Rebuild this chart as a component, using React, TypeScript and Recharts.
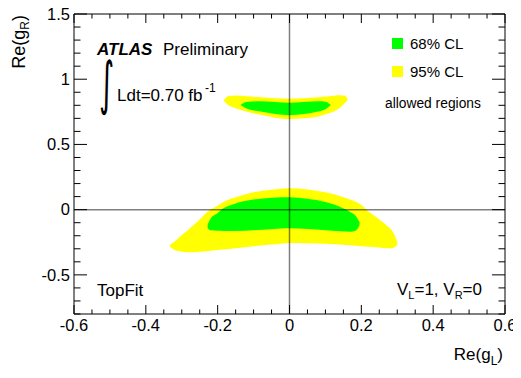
import { ComposedChart, Area, XAxis, YAxis, ReferenceLine } from 'recharts'

// lower banana, 95% CL
const low95X = [-0.333, -0.32, -0.3, -0.277, -0.25, -0.23, -0.2, -0.184, -0.15, -0.1, -0.05, 0, 0.05, 0.1, 0.15, 0.2, 0.22, 0.25, 0.27, 0.285, 0.295, 0.3]
const low95Lo = [-0.285, -0.31, -0.322, -0.327, -0.322, -0.318, -0.31, -0.305, -0.295, -0.28, -0.268, -0.255, -0.257, -0.262, -0.27, -0.28, -0.284, -0.29, -0.295, -0.295, -0.285, -0.265]
const low95Hi = [-0.27, -0.245, -0.195, -0.143, -0.075, -0.02, 0.03, 0.058, 0.095, 0.133, 0.152, 0.164, 0.155, 0.133, 0.095, 0.035, -0.015, -0.075, -0.12, -0.16, -0.21, -0.25]

// lower banana, 68% CL
const low68X = [-0.228, -0.22, -0.2, -0.184, -0.15, -0.1, -0.05, 0, 0.05, 0.1, 0.14, 0.17, 0.185, 0.195]
const low68Lo = [-0.14, -0.158, -0.162, -0.163, -0.163, -0.158, -0.15, -0.143, -0.148, -0.158, -0.166, -0.17, -0.16, -0.12]
const low68Hi = [-0.115, -0.07, -0.025, 0.01, 0.048, 0.078, 0.092, 0.095, 0.083, 0.058, 0.022, -0.02, -0.05, -0.095]

// upper banana, 95% CL
const up95X = [-0.183, -0.17, -0.15, -0.12, -0.08, -0.04, 0, 0.04, 0.08, 0.11, 0.14, 0.155, 0.162]
const up95Lo = [0.835, 0.8, 0.778, 0.752, 0.727, 0.705, 0.695, 0.7, 0.715, 0.74, 0.78, 0.82, 0.84]
const up95Hi = [0.84, 0.872, 0.876, 0.87, 0.862, 0.855, 0.851, 0.855, 0.862, 0.87, 0.878, 0.873, 0.848]

// upper banana, 68% CL
const up68X = [-0.135, -0.12, -0.08, -0.04, 0, 0.04, 0.08, 0.1, 0.114]
const up68Lo = [0.8, 0.775, 0.752, 0.733, 0.724, 0.733, 0.752, 0.77, 0.798]
const up68Hi = [0.806, 0.825, 0.831, 0.826, 0.82, 0.826, 0.831, 0.828, 0.806]

const xMajor = [-0.6, -0.4, -0.2, 0, 0.2, 0.4, 0.6]
const xMajorLabels = ['-0.6', '-0.4', '-0.2', '0', '0.2', '0.4', '0.6']
const yMajor = [-0.5, 0, 0.5, 1, 1.5]
const yMajorLabels = ['-0.5', '0', '0.5', '1', '1.5']

const xTicks = Array.from({ length: 25 }, (_, i) => Math.round((-0.6 + i * 0.05) * 100) / 100)
const yTicks = Array.from({ length: 24 }, (_, i) => Math.round((-0.8 + i * 0.1) * 10) / 10)

const GREEN = '#00ff00'
const YELLOW = '#ffff00'
const FONT = '"Liberation Sans", Arial, Helvetica, sans-serif'

function band(xs: number[], lo: number[], hi: number[]) {
  return xs.map((x, i) => ({ x, band: [lo[i], hi[i]] }))
}

function majorIndex(list: number[], v: number) {
  return list.findIndex((m) => Math.abs(m - v) < 1e-6)
}

function makeTick(side: 'bottom' | 'top' | 'left' | 'right') {
  return (props: any) => {
    const { x, y, payload } = props
    const v = payload.value
    const horiz = side === 'bottom' || side === 'top'
    const idx = majorIndex(horiz ? xMajor : yMajor, v)
    const len = horiz ? (idx >= 0 ? 9 : 4.5) : idx >= 0 ? 13 : 6.5
    let line
    if (side === 'bottom') line = <line x1={x} y1={y} x2={x} y2={y - len} stroke="#000" />
    else if (side === 'top') line = <line x1={x} y1={y} x2={x} y2={y + len} stroke="#000" />
    else if (side === 'left') line = <line x1={x} y1={y} x2={x + len} y2={y} stroke="#000" />
    else line = <line x1={x} y1={y} x2={x - len} y2={y} stroke="#000" />
    let label = null
    if (idx >= 0 && side === 'bottom')
      label = (
        <text x={x} y={y + 17} textAnchor="middle" fontSize={16.5} fontFamily={FONT} fill="#000">
          {xMajorLabels[idx]}
        </text>
      )
    if (idx >= 0 && side === 'left')
      label = (
        <text x={x - 4} y={y + 5.8} textAnchor="end" fontSize={16.5} fontFamily={FONT} fill="#000">
          {yMajorLabels[idx]}
        </text>
      )
    return (
      <g>
        {line}
        {label}
      </g>
    )
  }
}

export default function App() {
  const W = 513
  const H = 362
  return (
    <div style={{ position: 'relative', width: W, height: H, fontFamily: FONT }}>
      <ComposedChart width={W} height={H} margin={{ top: 5, right: 15, left: 26, bottom: 16 }}
        style={{ overflow: 'visible' }}>
        <XAxis xAxisId="b" dataKey="x" type="number" domain={[-0.6, 0.6]} ticks={xTicks} interval={0}
          allowDataOverflow orientation="bottom" height={40} tickSize={0} tickMargin={0} tickLine={false}
          axisLine={{ stroke: '#000' }} tick={makeTick('bottom')} />
        <XAxis xAxisId="t" dataKey="x" type="number" domain={[-0.6, 0.6]} ticks={xTicks} interval={0}
          allowDataOverflow orientation="top" height={1} tickSize={0} tickMargin={0} tickLine={false}
          axisLine={{ stroke: '#000' }} tick={makeTick('top')} />
        <YAxis yAxisId="l" type="number" domain={[-0.8, 1.5]} ticks={yTicks} interval={0}
          allowDataOverflow orientation="left" width={40} tickSize={0} tickMargin={0} tickLine={false}
          axisLine={{ stroke: '#000' }} tick={makeTick('left')} />
        <YAxis yAxisId="r" type="number" domain={[-0.8, 1.5]} ticks={yTicks} interval={0}
          allowDataOverflow orientation="right" width={1} tickSize={0} tickMargin={0} tickLine={false}
          axisLine={{ stroke: '#000' }} tick={makeTick('right')} />
        <Area xAxisId="b" yAxisId="l" data={band(low95X, low95Lo, low95Hi)} dataKey="band" type="monotone"
          fill={YELLOW} fillOpacity={1} stroke="none" dot={false} activeDot={false} isAnimationActive={false} />
        <Area xAxisId="b" yAxisId="l" data={band(up95X, up95Lo, up95Hi)} dataKey="band" type="monotone"
          fill={YELLOW} fillOpacity={1} stroke="none" dot={false} activeDot={false} isAnimationActive={false} />
        <Area xAxisId="b" yAxisId="l" data={band(low68X, low68Lo, low68Hi)} dataKey="band" type="monotone"
          fill={GREEN} fillOpacity={1} stroke="none" dot={false} activeDot={false} isAnimationActive={false} />
        <Area xAxisId="b" yAxisId="l" data={band(up68X, up68Lo, up68Hi)} dataKey="band" type="monotone"
          fill={GREEN} fillOpacity={1} stroke="none" dot={false} activeDot={false} isAnimationActive={false} />
        <ReferenceLine xAxisId="b" yAxisId="l" x={0} stroke="#000" strokeOpacity={0.5} strokeWidth={1.5} />
        <ReferenceLine xAxisId="b" yAxisId="l" y={0} stroke="#000" strokeOpacity={0.5} strokeWidth={1.5} />
      </ComposedChart>
      <svg width={W} height={H} style={{ position: 'absolute', left: 0, top: 0, pointerEvents: 'none', overflow: 'visible' }}>
        <g fontFamily={FONT} fill="#000">
          <text transform="translate(17,7) rotate(-90)" textAnchor="end" fontSize={18}>
            Re(g<tspan dy={4} fontSize={12}>R</tspan><tspan dy={-4}>)</tspan>
          </text>
          <text x={495} y={352} textAnchor="end" fontSize={17}>
            Re(g<tspan dy={5} fontSize={12}>L</tspan><tspan dy={-5}>)</tspan>
          </text>
          <text x={89} y={47} fontSize={17} fontWeight="bold" fontStyle="italic">ATLAS</text>
          <text x={155} y={47} fontSize={17}>Preliminary</text>
          <text transform="translate(91,95) scale(0.5,1)" fontSize={58} fontFamily="DejaVu Sans">∫</text>
          <text x={109} y={93} fontSize={17}>Ldt=0.70 fb</text>
          <text x={197} y={84} fontSize={12}>-1</text>
          <rect x={384} y={30} width={11} height={11} fill={GREEN} />
          <text x={402} y={40.5} fontSize={15}>68% CL</text>
          <rect x={384} y={58} width={11} height={11} fill={YELLOW} />
          <text x={402} y={68.5} fontSize={15}>95% CL</text>
          <text x={377} y={100} fontSize={13.8}>allowed regions</text>
          <text x={89} y={288} fontSize={17}>TopFit</text>
          <text x={389} y={287} fontSize={17}>
            V<tspan dy={4} fontSize={11}>L</tspan><tspan dy={-4}>=1, V</tspan><tspan dy={4} fontSize={11}>R</tspan><tspan dy={-4}>=0</tspan>
          </text>
        </g>
      </svg>
    </div>
  )
}
